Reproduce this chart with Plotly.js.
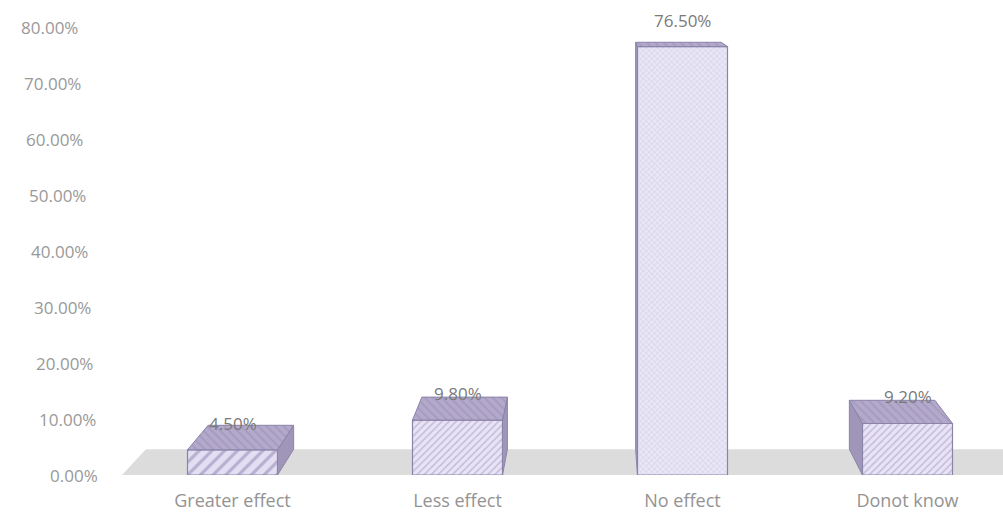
<!DOCTYPE html>
<html>
<head>
<meta charset="utf-8">
<script src="https://cdn.plot.ly/plotly-3.0.1.min.js"></script>
<style>
  html, body { margin: 0; padding: 0; background: #ffffff; }
  #chart { width: 1003px; height: 513px; }
</style>
</head>
<body>
<div id="chart"></div>
<script>
// Survey responses (share of respondents, %)
const categories = ['Greater effect', 'Less effect', 'No effect', 'Donot know'];
const values = [4.5, 9.8, 76.5, 9.2];
const yTickVals = [0, 10, 20, 30, 40, 50, 60, 70, 80];

// Front-face hatching per bar
const frontPattern = ['/', '/', 'x', '/'];
const frontBg = ['#e4def2', '#e9e4f5', '#e9e6f6', '#e9e4f5'];
const frontFg = ['#8a7fb0', '#9d92c0', '#bdb5da', '#9d92c0'];
const frontSize = [9, 5, 4, 5];
const frontSolid = [0.35, 0.3, 0.3, 0.3];

// Plot geometry
const W = 1003, H = 513;
const M = { l: 120, r: 0, t: 8, b: 38 };
const plotW = W - M.l - M.r, plotH = H - M.t - M.b;
const catStep = 225;                 // px between category centres
const xRange = [-0.5, -0.5 + plotW / catStep];
const yRange = [0, plotH / 5.6];
const barW = 0.4;

const xToPx = x => M.l + (x - xRange[0]) / (xRange[1] - xRange[0]) * plotW;
const yToPx = y => M.t + plotH - (y - yRange[0]) / (yRange[1] - yRange[0]) * plotH;
const pxToX = p => xRange[0] + (p - M.l) / plotW * (xRange[1] - xRange[0]);
const pxToY = p => yRange[0] + (M.t + plotH - p) / plotH * (yRange[1] - yRange[0]);

// Simple perspective: the back of every box recedes towards a vanishing point
const VP = { x: 600, y: -40 }, depth = 0.05;
function recede(x, y) {
  const px = xToPx(x), py = yToPx(y);
  return [pxToX(px + depth * (VP.x - px)), pxToY(py + depth * (VP.y - py))];
}

// Top and side faces of the boxes
const topX = [], topY = [], sideX = [], sideY = [];
values.forEach((v, i) => {
  const x0 = i - barW / 2, x1 = i + barW / 2;
  const bTL = recede(x0, v), bTR = recede(x1, v);
  topX.push(x0, x1, bTR[0], bTL[0], x0, null);
  topY.push(v, v, bTR[1], bTL[1], v, null);
  const rightSide = xToPx(bTR[0]) > xToPx(x1);
  const xs = rightSide ? x1 : x0;
  const bT = recede(xs, v), bB = recede(xs, 0);
  sideX.push(xs, xs, bB[0], bT[0], xs, null);
  sideY.push(v, 0, bB[1], bT[1], v, null);
});

// Floor strip
const floorL = pxToX(122), floorR = xRange[1] + 0.3;
const fBL = recede(floorL, 0), fBR = recede(floorR, 0);
const floorPath = `M ${floorL} 0 L ${floorR} 0 L ${fBR[0]} ${fBR[1]} L ${fBL[0]} ${fBL[1]} Z`;

const edge = '#8a84a8';

// One bar trace per category so each front face gets its own hatching
const traces = values.map((v, i) => ({
  type: 'bar',
  x: [i],
  y: [v],
  width: barW,
  marker: {
    color: frontBg[i],
    line: { color: edge, width: 1.2 },
    pattern: {
      shape: frontPattern[i], fillmode: 'overlay',
      fgcolor: frontFg[i], size: frontSize[i], solidity: frontSolid[i]
    }
  },
  hoverinfo: 'skip'
}));

traces.push(
  {
    type: 'scatter', mode: 'lines', x: sideX, y: sideY,
    fill: 'toself', fillcolor: '#9f96b9',
    line: { color: edge, width: 1 },
    hoverinfo: 'skip'
  },
  {
    type: 'scatter', mode: 'lines', x: topX, y: topY,
    fill: 'toself', fillcolor: '#b3a9ca',
    fillpattern: { shape: '\\', fillmode: 'overlay', fgcolor: '#968ab3', size: 6, solidity: 0.3 },
    line: { color: edge, width: 1 },
    hoverinfo: 'skip'
  }
);

const tickFont = { family: 'Open Sans, sans-serif', size: 17, color: '#999999' };

const annotations = [];
yTickVals.forEach(v => {
  annotations.push({
    xref: 'paper', yref: 'y', x: 0, y: v,
    xanchor: 'right', yanchor: 'middle',
    xshift: -20 - v * 0.25,
    text: v.toFixed(2) + '%',
    showarrow: false, font: tickFont
  });
});
values.forEach((v, i) => {
  annotations.push({
    xref: 'x', yref: 'y', x: i, y: v,
    xanchor: 'center', yanchor: 'bottom', yshift: 13,
    text: v.toFixed(2) + '%',
    showarrow: false,
    font: { family: 'Open Sans, sans-serif', size: 17, color: '#7a7a7a' }
  });
});

const layout = {
  width: W, height: H,
  margin: M,
  barmode: 'overlay',
  paper_bgcolor: '#ffffff', plot_bgcolor: '#ffffff',
  showlegend: false,
  xaxis: {
    range: xRange, tickvals: categories.map((c, i) => i), ticktext: categories,
    showgrid: false, zeroline: false, showline: false, ticks: '',
    ticklabelstandoff: 13,
    tickfont: { family: 'Open Sans, sans-serif', size: 18, color: '#939393' }
  },
  yaxis: {
    range: yRange, showgrid: false, zeroline: false, showline: false,
    showticklabels: false, ticks: ''
  },
  shapes: [{
    type: 'path', xref: 'x', yref: 'y', path: floorPath,
    fillcolor: '#dcdcdc', line: { width: 0 }, layer: 'below'
  }],
  annotations: annotations
};

Plotly.newPlot('chart', traces, layout, { staticPlot: true, displayModeBar: false });
</script>
</body>
</html>
